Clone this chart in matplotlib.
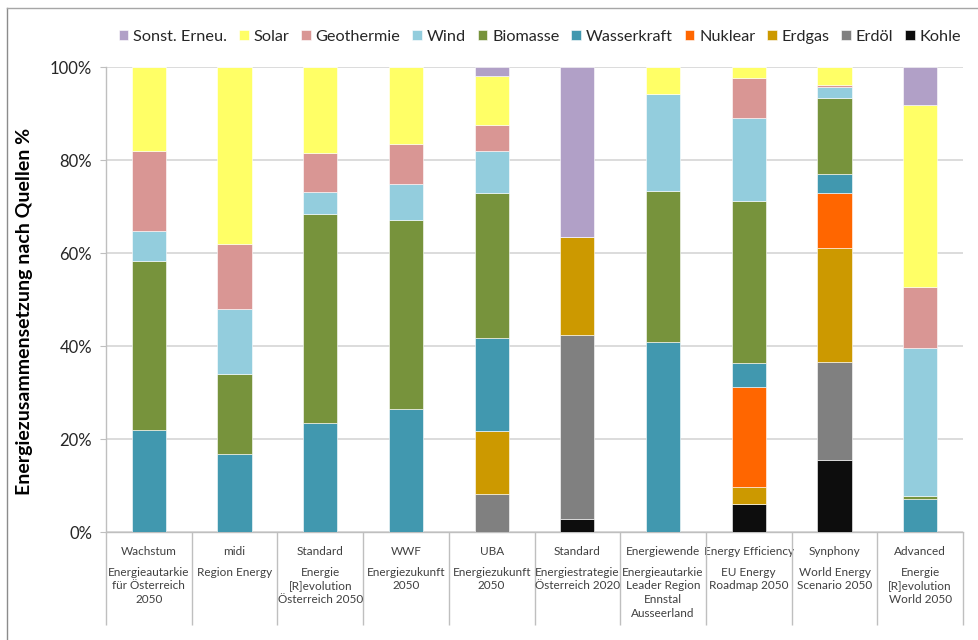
import numpy as np
import matplotlib
matplotlib.use("Agg")
import matplotlib.pyplot as plt
from matplotlib.lines import Line2D
from matplotlib.ticker import FuncFormatter

plt.rcParams['font.family'] = ['Lato', 'DejaVu Sans']

# scenario names (first label line) and study names (second block)
scenarios = ["Wachstum", "midi", "Standard", "WWF", "UBA", "Standard",
             "Energiewende", "Energy Efficiency", "Synphony", "Advanced"]
studies = ["Energieautarkie\nfür Österreich\n2050", "Region Energy",
           "Energie\n[R]evolution\nÖsterreich 2050", "Energiezukunft\n2050",
           "Energiezukunft\n2050", "Energiestrategie\nÖsterreich 2020",
           "Energieautarkie\nLeader Region\nEnnstal\nAusseerland",
           "EU Energy\nRoadmap 2050", "World Energy\nScenario 2050",
           "Energie\n[R]evolution\nWorld 2050"]

# shares in %, stacked bottom to top in this order
kohle = [0, 0, 0, 0, 0, 2.9, 0, 6.0, 15.5, 0]
erdoel = [0, 0, 0, 0, 8.2, 39.5, 0, 0, 21.1, 0]
erdgas = [0, 0, 0, 0, 13.6, 21.0, 0, 3.8, 24.6, 0]
nuklear = [0, 0, 0, 0, 0, 0, 0, 21.5, 11.7, 0]
wasserkraft = [22.0, 16.9, 23.6, 26.6, 20.0, 0, 41.0, 5.2, 4.2, 7.1]
biomasse = [36.4, 17.2, 44.9, 40.6, 31.1, 0, 32.3, 34.7, 16.4, 0.6]
wind = [6.3, 14.0, 4.6, 7.7, 9.2, 0, 21.0, 18.0, 2.2, 31.9]
geothermie = [17.2, 13.9, 8.4, 8.6, 5.5, 0, 0, 8.4, 0.5, 13.2]
solar = [18.1, 38.0, 18.5, 16.5, 10.5, 0, 5.7, 2.4, 3.8, 39.1]
sonst = [0, 0, 0, 0, 1.9, 36.6, 0, 0, 0, 8.1]

series = [("Kohle", kohle, "#0D0D0D"),
          ("Erdöl", erdoel, "#808080"),
          ("Erdgas", erdgas, "#CC9900"),
          ("Nuklear", nuklear, "#FF6600"),
          ("Wasserkraft", wasserkraft, "#4198AF"),
          ("Biomasse", biomasse, "#77933C"),
          ("Wind", wind, "#93CDDD"),
          ("Geothermie", geothermie, "#D99694"),
          ("Solar", solar, "#FFFF66"),
          ("Sonst. Erneu.", sonst, "#B1A0C7")]

W, H = 979, 640
fig = plt.figure(figsize=(W / 100, H / 100), dpi=100)
ax = fig.add_axes([106 / W, (H - 532.3) / H, (963 - 106) / W, (532.3 - 67.3) / H])

x = np.arange(len(scenarios))
bottom = np.zeros(len(scenarios))
handles = []
for name, vals, col in series:
    vals = np.array(vals, dtype=float)
    b = ax.bar(x, vals, 0.4, bottom=bottom, color=col, label=name,
               edgecolor="white", linewidth=0.4, zorder=3)
    bottom += vals
    handles.append(b)

ax.set_xlim(-0.5, len(scenarios) - 0.5)
ax.set_ylim(0, 100)
ax.set_yticks(np.arange(0, 101, 20))
ax.yaxis.set_major_formatter(FuncFormatter(lambda v, p: f"{v:.0f}%"))
ax.grid(axis="y", color="#D9D9D9", linewidth=1.3, zorder=0)
ax.tick_params(axis="y", length=4, color="#BFBFBF", labelsize=12, pad=6,
               labelcolor="#262626")

for s in ["top", "right"]:
    ax.spines[s].set_visible(False)
for s in ["left", "bottom"]:
    ax.spines[s].set_color("#BFBFBF")
    ax.spines[s].set_linewidth(1.0)

# category labels: scenario on top line, study below
ax.set_xticks(x)
ax.set_xticklabels(scenarios, fontsize=8.5, color="#404040")
ax.tick_params(axis="x", which="major", length=0, pad=10)
ax.set_xticks(np.arange(-0.5, len(scenarios)), minor=True)
ax.tick_params(axis="x", which="minor", length=67, width=1.0, color="#BFBFBF",
               direction="out")
for i, txt in enumerate(studies):
    ax.text(i, -0.074, txt, transform=ax.get_xaxis_transform(), ha="center",
            va="top", fontsize=8.5, color="#404040", linespacing=1.3)

ax.set_ylabel("Energiezusammensetzung nach Quellen %", fontsize=14,
              fontweight="bold")
ax.yaxis.set_label_coords(-0.085, 0.476)

ax.legend(handles=handles[::-1], loc="center", ncol=10,
          bbox_to_anchor=(540 / W, 1 - 37 / H), bbox_transform=fig.transFigure,
          frameon=False, fontsize=11.7, handlelength=0.6, handleheight=0.6,
          handletextpad=0.3, columnspacing=0.72, labelcolor="#262626")

# outer chart frame (left and top edges)
fig.add_artist(Line2D([7 / W, 7 / W], [0, 1 - 8 / H], color="#8C8C8C", lw=1.0))
fig.add_artist(Line2D([7 / W, 1], [1 - 8 / H, 1 - 8 / H], color="#A6A6A6", lw=1.0))

fig.savefig("out.png", dpi=100)
